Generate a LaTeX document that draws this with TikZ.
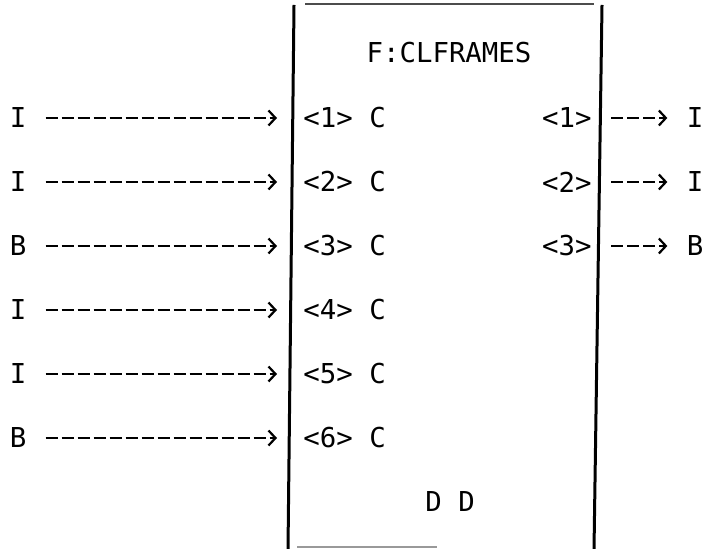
\documentclass[tikz,border=0pt]{standalone}
\usepackage{fontspec}
\setmonofont{DejaVu Sans Mono}
\usetikzlibrary{arrows.meta}

\begin{document}
\begin{tikzpicture}[
      x=0.5pt,y=-0.5pt,
      lbl/.style={font=\ttfamily\fontsize{13.7}{16}\selectfont,inner xsep=9.5pt,inner ysep=0pt},
      pin/.style={lbl,inner xsep=13pt,anchor=west},
      flow/.style={-{Straight Barb[length=3.5pt,width=7.5pt]},line width=1.1pt,
                   dash pattern=on 6pt off 2pt},
      wall/.style={line width=1.5pt},
    ]
    \useasboundingbox (0,0) rectangle (704,549);

    % frame of the block (scan is a little skewed)
    \draw[wall] (294,5) -- (288,549);
    \draw[wall] (602,5) -- (594,549);
    \draw[line width=1pt,black!70] (305,4) -- (594,4);
    \draw[line width=1pt,black!40] (297,547) -- (437,547);

    \node[lbl] (title) at (449,53) {F:CLFRAMES};
    \node[lbl] (foot) at (450,502) {D D};

    % inputs
    \node[lbl] (in1) at (18,118) {I};
    \node[lbl] (in2) at (18,182) {I};
    \node[lbl] (in3) at (18,246) {B};
    \node[lbl] (in4) at (18,310) {I};
    \node[lbl] (in5) at (18,374) {I};
    \node[lbl] (in6) at (18,438) {B};

    \node[pin] (pin1) at (277,118) {<1> C};
    \node[pin] (pin2) at (277,182) {<2> C};
    \node[pin] (pin3) at (277,246) {<3> C};
    \node[pin] (pin4) at (277,310) {<4> C};
    \node[pin] (pin5) at (277,374) {<5> C};
    \node[pin] (pin6) at (277,438) {<6> C};

    % outputs
    \node[lbl,anchor=east] (pout1) at (611,118) {<1>};
    \node[lbl,anchor=east] (pout2) at (611,182) {<2>};
    \node[lbl,anchor=east] (pout3) at (611,246) {<3>};

    \node[lbl] (out1) at (695,118) {I};
    \node[lbl] (out2) at (695,182) {I};
    \node[lbl] (out3) at (695,246) {B};

    \draw[flow] (in1) -- (pin1);
    \draw[flow] (in2) -- (pin2);
    \draw[flow] (in3) -- (pin3);
    \draw[flow] (in4) -- (pin4);
    \draw[flow] (in5) -- (pin5);
    \draw[flow] (in6) -- (pin6);
    \draw[flow] (pout1) -- (out1);
    \draw[flow] (pout2) -- (out2);
    \draw[flow] (pout3) -- (out3);
  \end{tikzpicture}
\end{document}
